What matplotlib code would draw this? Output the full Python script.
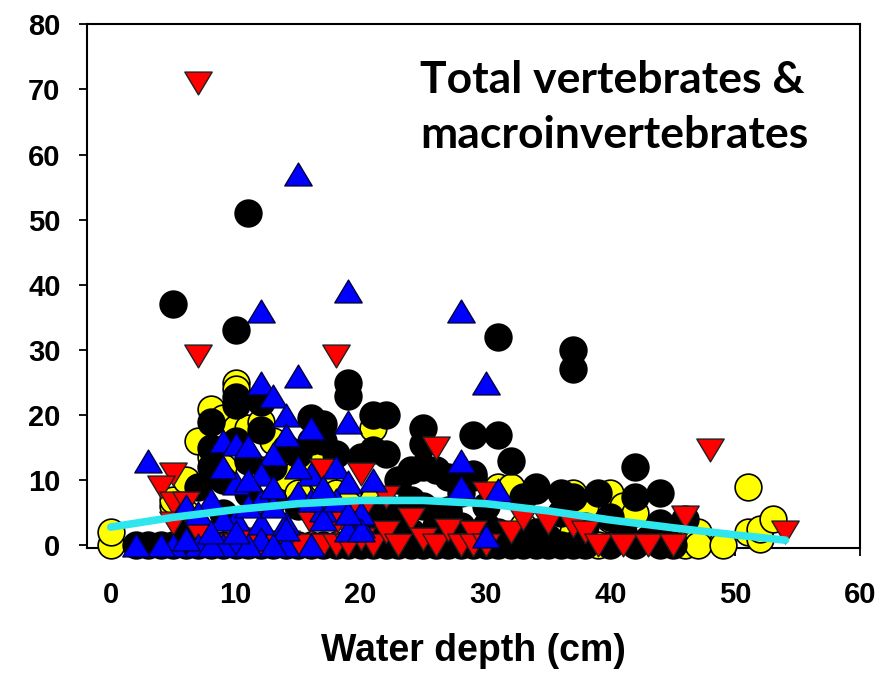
import matplotlib
matplotlib.use('Agg')
import matplotlib.pyplot as plt
from matplotlib.path import Path

# ── data (water depth in cm, abundance) ──────────────────────────────────────
yellow_x = [0, 0, 5, 5, 6, 6, 7, 8, 8, 9, 9, 10, 10, 10, 11, 12, 12, 13, 14, 14,
            15, 16, 17, 17, 18, 19, 21, 21, 23, 27, 31, 32, 33, 37, 37, 38, 39,
            40, 40, 41, 42, 45, 46, 47, 47, 49, 51, 51, 52, 52, 53]
yellow_y = [0, 2, 6, 7, 10, 5, 16, 21, 13.5, 19.5, 12, 25, 24, 18, 18, 11.5, 19,
            16, 12, 10.5, 8, 13, 13.5, 10, 8, 6.4, 18, 7, 3, 5, 9, 9, 3, 8, 2, 6,
            0, 8, 4, 6, 5, 1, 0, 2, 0, 0, 9, 2, 1, 2.5, 4]

black_x = [11, 5, 10, 31, 37, 37, 19, 19, 21, 22, 16, 17, 17, 25, 29, 31, 32, 42,
           8, 10, 10, 12, 8, 8, 10, 12, 9, 11, 13, 14, 15, 16, 18, 11, 13, 15, 7,
           6, 9,
           20, 22, 21, 23, 25, 25, 24, 27, 29, 29, 26, 27, 28, 30, 24, 22, 34, 33,
           34, 36, 37, 39, 42, 44, 44, 40, 46, 35, 33, 36, 38, 41, 43,
           2, 3, 4, 5, 6, 7, 8, 9, 10, 11, 12, 13, 14, 15, 16, 17, 18, 19, 20,
           21, 22, 23, 24, 25, 26, 27, 28, 29, 30, 31, 32, 33, 34, 35, 36, 37,
           38, 40, 42, 44, 45,
           20, 22, 24, 26, 28, 30, 31, 34, 21, 23, 25, 20]
black_y = [51, 37, 33, 32, 30, 27, 25, 23, 20, 20, 19.5, 16, 18.6, 18, 17, 17, 13,
           12, 19, 21.5, 22.8, 22, 15, 12, 16, 17.7, 10, 13, 12, 15, 14, 16, 14,
           8, 7, 6, 9, 3, 5,
           13.5, 14, 14.6, 10, 12, 15.6, 11.5, 10.5, 10.5, 11, 11.5, 5.4, 8, 6,
           7, 6, 8.5, 7.4, 9, 8, 7.4, 8, 7.4, 8, 3.4, 4.3, 4, 1.2, 1.2, 5, 3, 2,
           1,
           0, 0, 0, 0, 0, 0, 0, 0, 0, 0, 0, 0, 0, 0, 0, 0, 0, 0, 0,
           0, 0, 0, 0, 0, 0, 0, 0, 0, 0, 0, 0, 0, 0, 0, 0, 0,
           0, 0, 0, 0, 0,
           2, 2, 2, 3, 3, 3, 2, 2, 4, 5, 6, 5]

red_x = [7, 7, 18, 48, 26, 5, 4, 54, 46, 5, 6, 5, 8, 9, 10, 12, 13, 15, 16, 17,
         17, 18, 18, 19, 19, 20, 20, 21, 22, 23, 24, 25, 26, 27, 28, 29, 29,
         30, 30, 32, 33, 35, 37, 38, 39, 41, 43, 45, 11, 14, 7, 22, 20, 18]
red_y = [71, 29, 29, 14.6, 15, 11, 9, 2, 4.3, 6.5, 6.5, 3.5, 0, 0, 0, 0, 0, 0,
         3.5, 11.5, 0, 4, 0, 2.3, 0, 11, 1, 0, 2, 0, 4, 1, 0, 2.3, 0, 2, 0, 8,
         0, 2, 4, 3.5, 3, 2, 0, 0, 0, 0, 1, 0.5, 2, 7.4, 5, 3.4]

blue_x = [15, 12, 19, 28, 30, 15, 12, 13, 19, 14, 14, 16, 3, 28, 28, 31, 30, 9,
          10, 11, 13, 12, 10, 8, 6, 12, 10, 12, 14, 16, 18, 19, 21, 20, 19, 17,
          16, 14, 10, 7, 5, 4, 2, 14, 15, 13, 16, 17, 20, 20, 12, 9, 8, 6, 11,
          13, 9, 11, 15, 13, 11, 9, 7, 8, 10, 18, 17, 19]
blue_y = [57, 36, 39, 36, 25, 26, 25, 23, 19, 20, 17, 18, 13, 13, 9, 8.5, 1.5,
          16, 15.6, 15.3, 14, 11, 9.5, 7, 6, 7, 4, 3.5, 3.5, 11, 12, 9.7, 10, 3,
          2.3, 5.5, 0, 0, 0, 0, 0, 0, 0, 2.5, 8, 6, 7, 4, 5, 2.3, 1, 0, 0, 1, 0,
          0, 12, 10, 12, 9, 6, 4, 5, 2, 2, 7, 9, 5]

# smoothed fit
fit_x = [0, 5, 10, 15, 20, 25, 30, 35, 40, 45, 50, 54]
fit_y = [2.8, 4.3, 5.5, 6.4, 6.9, 6.9, 6.4, 5.3, 3.9, 2.7, 1.6, 0.8]

xticks = [0, 10, 20, 30, 40, 50, 60]
yticks = [0, 10, 20, 30, 40, 50, 60, 70, 80]

# ── figure ───────────────────────────────────────────────────────────────────
fig = plt.figure(figsize=(8.87, 6.74), dpi=100)
ax = fig.add_axes([0.098, 0.187, 0.872, 0.777])

tri_up = Path([(0, 1), (-1.2, -1), (1.2, -1), (0, 1)],
              [Path.MOVETO, Path.LINETO, Path.LINETO, Path.CLOSEPOLY])
tri_dn = Path([(0, -1), (-1.2, 1), (1.2, 1), (0, -1)],
              [Path.MOVETO, Path.LINETO, Path.LINETO, Path.CLOSEPOLY])

S = 370
ax.scatter(yellow_x, yellow_y, s=S, marker='o', facecolor='#FFFF00',
           edgecolor='black', linewidth=1.2, zorder=3, clip_on=False)
ax.scatter(black_x, black_y, s=S, marker='o', facecolor='black',
           edgecolor='black', linewidth=1.2, zorder=4, clip_on=False)
ax.scatter(red_x, red_y, s=S * 1.05, marker=tri_dn, facecolor='#FF0000',
           edgecolor='#202020', linewidth=1.0, zorder=5, clip_on=False)
ax.scatter(blue_x, blue_y, s=S * 1.05, marker=tri_up, facecolor='#0000FF',
           edgecolor='#000040', linewidth=1.0, zorder=6, clip_on=False)
ax.plot(fit_x, fit_y, color='#2EE6EE', lw=5.5, solid_capstyle='round',
        zorder=7)

ax.set_xlim(-1.9, 60)
ax.set_ylim(-0.4, 80)
ax.set_xticks(xticks)
ax.set_yticks(yticks)

for sp in ax.spines.values():
    sp.set_linewidth(1.5)
ax.tick_params(axis='both', direction='out', length=6, width=1.3,
               labelsize=21)
ax.tick_params(axis='y', pad=13)
ax.tick_params(axis='x', pad=18)
for lab in ax.get_xticklabels() + ax.get_yticklabels():
    lab.set_fontfamily('Liberation Sans')
    lab.set_fontweight('bold')

ax.set_xlabel('Water depth (cm)', fontsize=27, fontweight='bold',
              family='Liberation Sans', labelpad=17)

ax.text(0.431, 0.841, 'Total vertebrates &\nmacroinvertebrates',
        transform=ax.transAxes, ha='left', va='center', fontsize=32,
        fontweight='bold', family='Lato', linespacing=1.45)

fig.savefig('out.png', dpi=100, facecolor='white')
